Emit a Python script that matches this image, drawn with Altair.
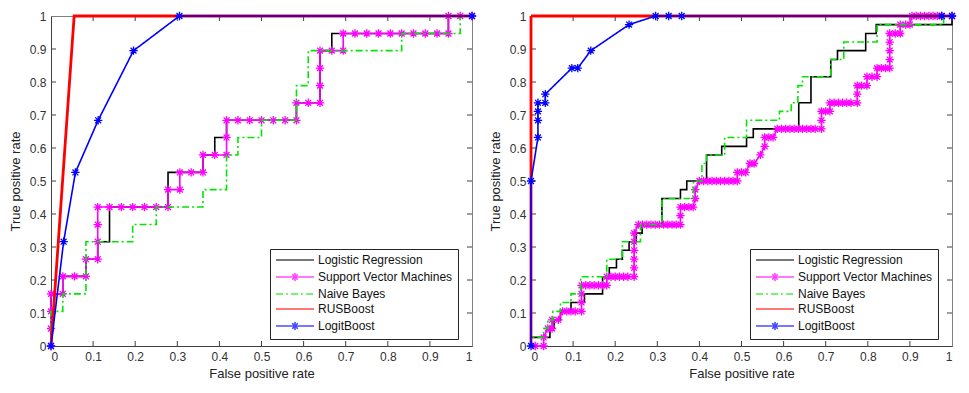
import altair as alt
import pandas as pd

METHODS = ["Logistic Regression", "Support Vector Machines", "Naive Bayes", "RUSBoost", "LogitBoost"]
COLORS = ["#000000", "#ff00ff", "#00e600", "#ff0000", "#0000ff"]
DASHES = [[1, 0], [1, 0], [7, 3, 2, 3], [1, 0], [1, 0]]
WIDTHS = [1.6, 1.6, 1.6, 2.8, 1.6]
HAS_MARKER = [False, True, False, False, True]
TICKS = [0, 0.1, 0.2, 0.3, 0.4, 0.5, 0.6, 0.7, 0.8, 0.9, 1]

LINE_SYM = "M-3.8,0L3.8,0"
STAR_SYM = ("M-3.8,0L3.8,0M-0.8,0L0.8,0M0,-0.8L0,0.8"
            "M-0.56,-0.56L0.56,0.56M-0.56,0.56L0.56,-0.56")
LEG_SHAPES = [LINE_SYM, STAR_SYM, LINE_SYM, LINE_SYM, STAR_SYM]
STAR = "M-1,0L1,0M0,-1L0,1M-0.7,-0.7L0.7,0.7M-0.7,0.7L0.7,-0.7"

# ---------------- left panel ----------------
L_LR = [(0, 0), (0, 0.053), (0, 0.105), (0, 0.158), (0.028, 0.158), (0.028, 0.211), (0.083, 0.211),
        (0.083, 0.263), (0.111, 0.263), (0.111, 0.316), (0.139, 0.316), (0.139, 0.421), (0.278, 0.421),
        (0.278, 0.526), (0.306, 0.526), (0.361, 0.526), (0.361, 0.579), (0.389, 0.579), (0.389, 0.632),
        (0.417, 0.632), (0.417, 0.684), (0.583, 0.684), (0.583, 0.737), (0.639, 0.737), (0.639, 0.895),
        (0.667, 0.895), (0.667, 0.947), (0.944, 0.947), (0.944, 1), (1, 1)]
L_SVM = [(0, 0), (0, 0.053), (0, 0.105), (0, 0.158), (0.028, 0.158), (0.028, 0.211), (0.056, 0.211),
         (0.083, 0.211), (0.083, 0.263), (0.111, 0.263), (0.111, 0.316), (0.111, 0.368), (0.111, 0.421),
         (0.139, 0.421), (0.167, 0.421), (0.194, 0.421), (0.222, 0.421), (0.25, 0.421), (0.278, 0.421),
         (0.278, 0.474), (0.306, 0.474), (0.306, 0.526), (0.333, 0.526), (0.361, 0.526), (0.361, 0.579),
         (0.389, 0.579), (0.417, 0.579), (0.417, 0.632), (0.417, 0.684), (0.444, 0.684), (0.472, 0.684),
         (0.5, 0.684), (0.528, 0.684), (0.556, 0.684), (0.583, 0.684), (0.583, 0.737), (0.611, 0.737),
         (0.639, 0.737), (0.639, 0.789), (0.639, 0.842), (0.639, 0.895), (0.667, 0.895), (0.694, 0.895),
         (0.694, 0.947), (0.722, 0.947), (0.75, 0.947), (0.778, 0.947), (0.806, 0.947), (0.833, 0.947),
         (0.861, 0.947), (0.889, 0.947), (0.917, 0.947), (0.944, 0.947), (0.944, 1), (0.972, 1), (1, 1)]
L_NB = [(0, 0), (0, 0.105), (0.028, 0.105), (0.028, 0.158), (0.083, 0.158), (0.083, 0.316), (0.194, 0.316),
        (0.194, 0.368), (0.25, 0.368), (0.25, 0.421), (0.361, 0.421), (0.361, 0.474), (0.417, 0.474),
        (0.417, 0.579), (0.444, 0.579), (0.444, 0.632), (0.5, 0.632), (0.5, 0.684), (0.583, 0.684),
        (0.583, 0.789), (0.611, 0.789), (0.611, 0.895), (0.833, 0.895), (0.833, 0.947), (0.972, 0.947),
        (0.972, 1), (1, 1)]
L_RUS = [(0, 0), (0.055, 1), (1, 1)]
L_LOGIT = [(0, 0), (0.03, 0.316), (0.058, 0.526), (0.112, 0.684), (0.196, 0.895), (0.305, 1), (1, 1)]

# ---------------- right panel ----------------
R_LR = [(0, 0), (0, 0.026), (0.045, 0.026), (0.045, 0.053), (0.055, 0.053), (0.055, 0.079), (0.07, 0.079),
        (0.07, 0.105), (0.095, 0.105), (0.095, 0.132), (0.127, 0.132), (0.127, 0.158), (0.17, 0.158),
        (0.17, 0.21), (0.186, 0.21), (0.186, 0.237), (0.203, 0.237), (0.203, 0.263), (0.217, 0.263),
        (0.217, 0.29), (0.233, 0.29), (0.233, 0.316), (0.25, 0.316), (0.25, 0.342), (0.264, 0.342),
        (0.264, 0.368), (0.311, 0.368), (0.311, 0.447), (0.355, 0.447), (0.355, 0.474), (0.37, 0.474),
        (0.37, 0.5), (0.417, 0.5), (0.417, 0.579), (0.453, 0.579), (0.453, 0.605), (0.512, 0.605),
        (0.512, 0.632), (0.528, 0.632), (0.528, 0.658), (0.636, 0.658), (0.636, 0.737), (0.665, 0.737),
        (0.665, 0.816), (0.712, 0.816), (0.712, 0.868), (0.728, 0.868), (0.728, 0.895), (0.795, 0.895),
        (0.795, 0.947), (0.82, 0.947), (0.82, 0.974), (1, 0.974), (1, 1)]
R_SVM = [(0.01, 0), (0.03, 0), (0.03, 0.026), (0.04, 0.053), (0.05, 0.053), (0.05, 0.079), (0.065, 0.079),
         (0.075, 0.105), (0.085, 0.105), (0.095, 0.105), (0.105, 0.105), (0.12, 0.105), (0.12, 0.132),
         (0.12, 0.158), (0.12, 0.184), (0.13, 0.184), (0.14, 0.184), (0.15, 0.184), (0.16, 0.184),
         (0.17, 0.184), (0.18, 0.184), (0.18, 0.21), (0.19, 0.21), (0.2, 0.21), (0.21, 0.21), (0.22, 0.21),
         (0.23, 0.21), (0.245, 0.21), (0.245, 0.237), (0.245, 0.263), (0.245, 0.29), (0.245, 0.316),
         (0.245, 0.342), (0.255, 0.368), (0.265, 0.368), (0.275, 0.368), (0.285, 0.368), (0.295, 0.368),
         (0.305, 0.368), (0.315, 0.368), (0.325, 0.368), (0.335, 0.368), (0.345, 0.368), (0.355, 0.368),
         (0.355, 0.395), (0.355, 0.421), (0.365, 0.421), (0.375, 0.421), (0.385, 0.421), (0.39, 0.447),
         (0.39, 0.474), (0.4, 0.5), (0.41, 0.5), (0.42, 0.5), (0.43, 0.5), (0.44, 0.5), (0.45, 0.5),
         (0.46, 0.5), (0.47, 0.5), (0.48, 0.5), (0.49, 0.5), (0.49, 0.526), (0.5, 0.526), (0.51, 0.526),
         (0.52, 0.553), (0.53, 0.553), (0.545, 0.579), (0.555, 0.605), (0.555, 0.632), (0.565, 0.632),
         (0.575, 0.632), (0.585, 0.658), (0.595, 0.658), (0.605, 0.658), (0.615, 0.658), (0.625, 0.658),
         (0.635, 0.658), (0.645, 0.658), (0.655, 0.658), (0.665, 0.658), (0.675, 0.658), (0.69, 0.658),
         (0.69, 0.684), (0.69, 0.711), (0.7, 0.711), (0.71, 0.711), (0.71, 0.737), (0.72, 0.737),
         (0.73, 0.737), (0.74, 0.737), (0.75, 0.737), (0.76, 0.737), (0.775, 0.737), (0.775, 0.763),
         (0.775, 0.789), (0.785, 0.789), (0.798, 0.789), (0.798, 0.816), (0.81, 0.816), (0.822, 0.816),
         (0.822, 0.842), (0.832, 0.842), (0.842, 0.842), (0.852, 0.842), (0.852, 0.868), (0.852, 0.895),
         (0.852, 0.921), (0.852, 0.947), (0.865, 0.947), (0.877, 0.947), (0.877, 0.974), (0.89, 0.974),
         (0.9, 0.974), (0.905, 1), (0.915, 1), (0.925, 1), (0.935, 1), (0.945, 1), (0.955, 1), (0.965, 1),
         (0.975, 1), (1, 1)]
R_NB = [(0, 0), (0, 0.026), (0.03, 0.026), (0.03, 0.053), (0.04, 0.053), (0.04, 0.079), (0.052, 0.079),
        (0.052, 0.105), (0.07, 0.105), (0.07, 0.132), (0.095, 0.132), (0.095, 0.158), (0.118, 0.158),
        (0.118, 0.21), (0.18, 0.21), (0.18, 0.263), (0.217, 0.263), (0.217, 0.316), (0.26, 0.316),
        (0.26, 0.368), (0.311, 0.368), (0.311, 0.447), (0.386, 0.447), (0.386, 0.5), (0.406, 0.5),
        (0.406, 0.553), (0.417, 0.553), (0.417, 0.579), (0.46, 0.579), (0.46, 0.632), (0.512, 0.632),
        (0.512, 0.684), (0.59, 0.684), (0.59, 0.711), (0.618, 0.711), (0.618, 0.737), (0.634, 0.737),
        (0.634, 0.789), (0.645, 0.789), (0.645, 0.816), (0.712, 0.816), (0.712, 0.868), (0.743, 0.868),
        (0.743, 0.921), (0.822, 0.921), (0.822, 0.974), (0.98, 0.974), (0.98, 1), (1, 1)]
R_RUS = [(0, 0), (0, 1), (1, 1)]
R_LOGIT = [(0, 0), (0, 0.5), (0.0165, 0.632), (0.0165, 0.684), (0.0165, 0.711), (0.0165, 0.737),
           (0.034, 0.737), (0.034, 0.763), (0.097, 0.842), (0.111, 0.842), (0.142, 0.895), (0.233, 0.974),
           (0.296, 1), (0.327, 1), (0.358, 1), (0.976, 1), (1, 1)]

W, H = 421, 330
AX = "#404040"
FONT = "Liberation Sans"

XS = alt.Scale(domain=[0, 1], nice=False, zero=False)
YS = alt.Scale(domain=[0, 1], nice=False, zero=False)
XAX = alt.Axis(values=TICKS, format="~g", ticks=False, grid=False, labelPadding=5, titlePadding=5)
YAX = alt.Axis(values=TICKS, format="~g", ticks=False, grid=False, labelPadding=5, titlePadding=7)
XT = "False positive rate"
YT = "True positive rate"


def panel(series):
    rows = []
    for m, pts in zip(METHODS, series):
        for i, (x, y) in enumerate(pts):
            rows.append({"Method": m, "x": x, "y": y, "i": i})
    df = pd.DataFrame(rows)
    xenc = alt.X("x:Q", scale=XS, axis=XAX, title=XT)
    yenc = alt.Y("y:Q", scale=YS, axis=YAX, title=YT)
    color = alt.Color("Method:N", scale=alt.Scale(domain=METHODS, range=COLORS), title=None)
    dash = alt.StrokeDash("Method:N", scale=alt.Scale(domain=METHODS, range=DASHES), title=None)

    tdf = pd.DataFrame({"t": TICKS[1:-1]})
    tx = alt.X("t:Q", scale=XS, axis=XAX, title=XT)
    ty = alt.Y("t:Q", scale=YS, axis=YAX, title=YT)
    tc = alt.Chart(tdf)
    layers = [
        tc.mark_rule(color=AX, strokeWidth=1).encode(x=tx, y=alt.value(H), y2=alt.value(H - 5)),
        tc.mark_rule(color=AX, strokeWidth=1).encode(x=tx, y=alt.value(0), y2=alt.value(5)),
        tc.mark_rule(color=AX, strokeWidth=1).encode(y=ty, x=alt.value(0), x2=alt.value(5)),
        tc.mark_rule(color=AX, strokeWidth=1).encode(y=ty, x=alt.value(W), x2=alt.value(W - 5)),
    ]
    base = alt.Chart(df)
    for m, c, sw, mk in zip(METHODS, COLORS, WIDTHS, HAS_MARKER):
        sub = base.transform_filter(alt.datum.Method == m)
        layers.append(sub.mark_line(strokeWidth=sw, clip=False).encode(
            x=xenc, y=yenc, color=color, strokeDash=dash, order=alt.Order("i:Q")))
        if mk:
            layers.append(sub.mark_point(shape=STAR, size=70, filled=False, strokeWidth=1.3,
                                         color=c, opacity=1, clip=False).encode(x=xenc, y=yenc))
    ldf = pd.DataFrame({"Method": METHODS, "x": [None] * 5, "y": [None] * 5})
    layers.append(alt.Chart(ldf).mark_point(filled=False).encode(
        x=xenc, y=yenc, color=color, strokeDash=dash,
        shape=alt.Shape("Method:N", scale=alt.Scale(domain=METHODS, range=LEG_SHAPES), title=None)))
    return alt.layer(*layers).properties(width=W, height=H)


left = panel([L_LR, L_SVM, L_NB, L_RUS, L_LOGIT])
right = panel([R_LR, R_SVM, R_NB, R_RUS, R_LOGIT])

chart = (
    alt.hconcat(left, right, spacing=8)
    .resolve_scale(color="independent", strokeDash="independent", shape="independent")
    .properties(padding={"left": 0, "top": 0, "right": 0, "bottom": 0}, background="white")
    .configure_view(stroke="#808080", strokeWidth=1)
    .configure_axis(labelFont=FONT, labelFontSize=12, labelColor="#333333", titleFont=FONT,
                    titleFontSize=13, titleFontWeight="normal", titleColor="#222222",
                    domainColor=AX, domainWidth=1)
    .configure_legend(orient="none", legendX=219, legendY=233, padding=5, strokeColor="#262626",
                      fillColor="white", labelFont=FONT, labelFontSize=12, labelColor="#111111",
                      symbolSize=100, symbolStrokeWidth=1.6, symbolOffset=14, rowPadding=3,
                      labelOffset=17, labelLimit=0, cornerRadius=0)
)

chart.save("out.html", embed_options={"renderer": "svg", "actions": False})
